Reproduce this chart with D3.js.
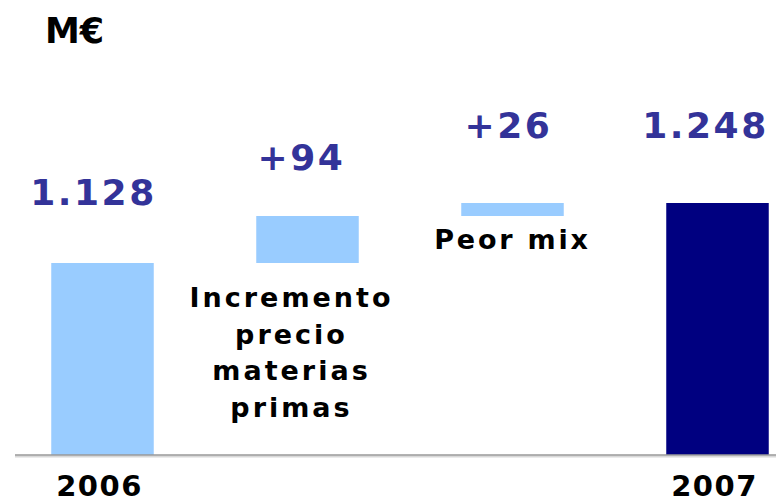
<!DOCTYPE html>
<html>
<head>
<meta charset="utf-8">
<script src="https://cdn.jsdelivr.net/npm/d3@7"></script>
<style>
  html, body { margin: 0; padding: 0; background: #fff; }
  svg text { font-family: "DejaVu Sans", Verdana, sans-serif; font-weight: bold; }
</style>
</head>
<body>
<svg id="chart" width="776" height="503"></svg>
<script>
// Waterfall: M€ 2006 -> 2007
// ------------------------------------------------------------------
const categories  = ["2006", "Incremento precio materias primas", "Peor mix", "2007"];
const values      = [1128, 94, 26, 1248];
const kinds       = ["total", "delta", "delta", "total"];
const valueLabels = ["1.128", "+94", "+26", "1.248"];
const catLines    = [["2006"], ["Incremento", "precio", "materias", "primas"], ["Peor mix"], ["2007"]];

// layout bits (not data)
const labelGap = [58, 46, 65, 65];   // value label baseline above bar top
const labelDx  = [-9, -6, -4, -12];
const catGap   = [0, 44, 33, 0];     // category label first baseline below bar bottom

const svg = d3.select("#chart");

const colorLight = "#99ccff",
      colorDark  = "#000080",
      colorValue = "#333399";

// Scales -----------------------------------------------------------
const x = d3.scaleBand()
  .domain(categories)
  .range([0, 820])
  .paddingInner(0.5)
  .paddingOuter(0.25);

const y = d3.scaleLinear()
  .domain([744, 1248])      // broken axis: baseline is not zero
  .range([455, 203]);

// Build waterfall rows ---------------------------------------------
let running = 0;
const rows = categories.map((c, i) => {
  let y0, y1;
  if (kinds[i] === "total") { y0 = y.domain()[0]; y1 = values[i]; running = values[i]; }
  else { y0 = running; y1 = running + values[i]; running = y1; }
  return { cat: c, y0, y1, kind: kinds[i], i, color: i === 3 ? colorDark : colorLight };
});

// Bars -------------------------------------------------------------
svg.append("g").selectAll("rect")
  .data(rows)
  .join("rect")
    .attr("x", d => x(d.cat))
    .attr("width", x.bandwidth())
    .attr("y", d => y(d.y1))
    .attr("height", d => y(d.y0) - y(d.y1))
    .attr("fill", d => d.color);

// Baseline ---------------------------------------------------------
svg.append("line")
  .attr("x1", 15).attr("x2", 776)
  .attr("y1", y.range()[0] + 1.5).attr("y2", y.range()[0] + 1.5)
  .attr("stroke", "#d8d8d8").attr("stroke-width", 2);
svg.append("line")
  .attr("x1", 15).attr("x2", 776)
  .attr("y1", y.range()[0]).attr("y2", y.range()[0])
  .attr("stroke", "#999").attr("stroke-width", 1.5);

// Value labels -----------------------------------------------------
svg.append("g").selectAll("text")
  .data(rows)
  .join("text")
    .attr("x", d => x(d.cat) + x.bandwidth() / 2 + labelDx[d.i])
    .attr("y", d => y(d.y1) - labelGap[d.i])
    .attr("text-anchor", "middle")
    .attr("fill", colorValue)
    .style("font-size", "36px")
    .style("letter-spacing", "2.5px")
    .text(d => valueLabels[d.i]);

// Category labels --------------------------------------------------
rows.forEach(d => {
  const cx = x(d.cat) + x.bandwidth() / 2;
  if (d.kind === "total") {
    svg.append("text")
      .attr("x", cx - 3)
      .attr("y", 496)
      .attr("text-anchor", "middle")
      .attr("fill", "#000")
      .style("font-size", "29px")
      .style("letter-spacing", "1.5px")
      .text(catLines[d.i][0]);
  } else {
    const t = svg.append("text")
      .attr("text-anchor", "middle")
      .attr("fill", "#000")
      .style("font-size", "27px")
      .style("letter-spacing", d.i === 1 ? "3px" : "2.8px");
    const top = y(d.y0) + catGap[d.i];
    catLines[d.i].forEach((ln, k) => {
      t.append("tspan")
        .attr("x", cx - (d.i === 1 ? 16 : 0))
        .attr("y", top + k * 36.5)
        .text(ln);
    });
  }
});

// Unit -------------------------------------------------------------
svg.append("text")
  .attr("x", 45).attr("y", 43)
  .attr("fill", "#000")
  .style("font-size", "35px")
  .text("M€");
</script>
</body>
</html>
